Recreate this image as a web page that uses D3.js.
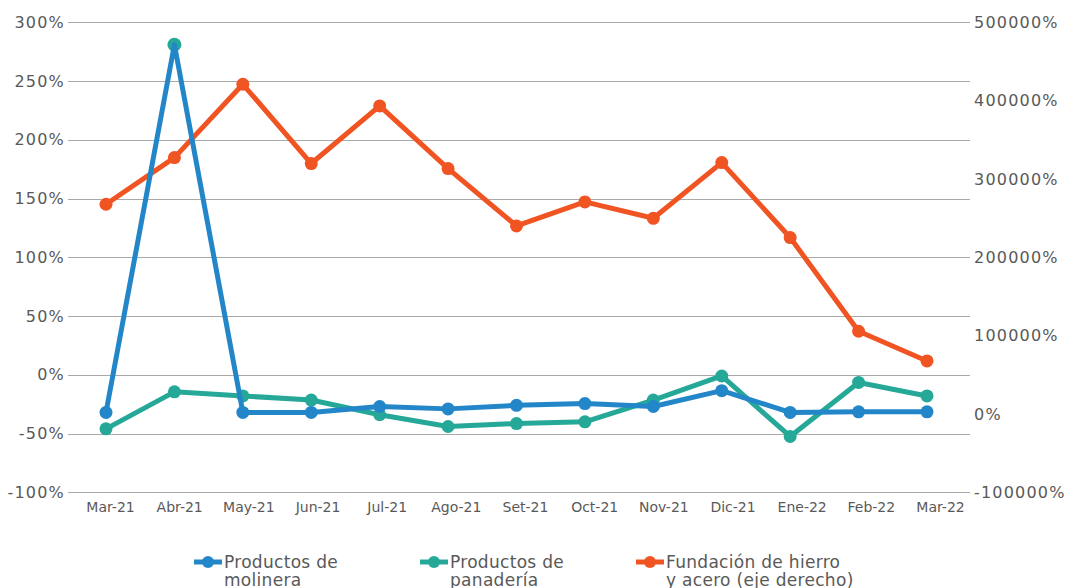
<!DOCTYPE html>
<html>
<head>
<meta charset="utf-8">
<script src="https://cdn.jsdelivr.net/npm/d3@7"></script>
<style>
  body { margin: 0; background: #fff; }
  text { font-family: "DejaVu Sans", sans-serif; fill: #595959; }
  .tick-y text { font-size: 16px; letter-spacing: 1.2px; }
  .tick-x text { font-size: 14px; }
  .legend text { font-size: 17px; letter-spacing: 0.3px; }
</style>
</head>
<body>
<div id="chart"></div>
<script>
var svgWidth = 1066;
var svgHeight = 588;

var months = ["Mar-21", "Abr-21", "May-21", "Jun-21", "Jul-21", "Ago-21", "Set-21",
  "Oct-21", "Nov-21", "Dic-21", "Ene-22", "Feb-22", "Mar-22"];

// left axis series (%)
var molinera = [-32, 281, -32, -32, -27, -29, -26, -24.5, -27, -13.5, -32, -31.5, -31.5];
var panaderia = [-46, -14.5, -18, -21.5, -34, -44, -41.5, -40, -21.5, -1, -52.5, -6.5, -18];
// right axis series (%)
var fundicion = [267700, 327300, 420900, 319700, 393200, 313300, 240000, 270700,
  249800, 320900, 225200, 105600, 67700];

var leftTicks = [-100, -50, 0, 50, 100, 150, 200, 250, 300];
var rightTicks = [-100000, 0, 100000, 200000, 300000, 400000, 500000];

var colors = { molinera: "#2386c8", panaderia: "#26a898", fundicion: "#f15423" };

var svg = d3.select("#chart")
  .append("svg")
  .attr("width", svgWidth)
  .attr("height", svgHeight);

var plotLeft = 68, plotRight = 970, plotTop = 22.3, plotBottom = 492.3;

var xScale = d3.scalePoint().domain(months).range([106, 927]);
// category labels sit slightly to the right of the points, as in the original
var xLabelScale = d3.scalePoint().domain(months).range([110, 940]);
var yLeft = d3.scaleLinear().domain([-100, 300]).range([plotBottom, plotTop]);
var yRight = d3.scaleLinear().domain([-100000, 500000]).range([plotBottom, plotTop]);

// gridlines
svg.append("g")
  .selectAll("line")
  .data(leftTicks)
  .enter()
  .append("line")
  .attr("x1", plotLeft)
  .attr("x2", plotRight)
  .attr("y1", d => Math.round(yLeft(d)) + 0.5)
  .attr("y2", d => Math.round(yLeft(d)) + 0.5)
  .attr("stroke", "#a9a9a9")
  .attr("stroke-width", 1.2);

// left axis
var leftAxis = d3.axisLeft(yLeft).tickValues(leftTicks).tickSize(0).tickPadding(0)
  .tickFormat(d => d + "%");
svg.append("g")
  .attr("class", "tick-y")
  .attr("transform", `translate(65, 0)`)
  .call(leftAxis)
  .call(g => g.select(".domain").remove());

// right axis
var rightAxis = d3.axisRight(yRight).tickValues(rightTicks).tickSize(0).tickPadding(0)
  .tickFormat(d => d + "%");
svg.append("g")
  .attr("class", "tick-y")
  .attr("transform", `translate(974, 0)`)
  .call(rightAxis)
  .call(g => g.select(".domain").remove());

// bottom axis labels
var bottomAxis = d3.axisBottom(xLabelScale).tickSize(0).tickPadding(0);
svg.append("g")
  .attr("class", "tick-x")
  .attr("transform", `translate(0, 502)`)
  .call(bottomAxis)
  .call(g => g.select(".domain").remove());

function drawLine(values, yScale, color) {
  var line = d3.line()
    .x((d, i) => xScale(months[i]))
    .y(d => yScale(d));
  svg.append("path")
    .datum(values)
    .attr("d", line)
    .attr("fill", "none")
    .attr("stroke", color)
    .attr("stroke-width", 5)
    .attr("stroke-linejoin", "round")
    .attr("stroke-linecap", "round");
}

function drawMarkers(values, yScale, color, skip) {
  svg.append("g")
    .selectAll("circle")
    .data(values.map((v, i) => ({ v: v, i: i })).filter(d => d.i !== skip))
    .enter()
    .append("circle")
    .attr("cx", d => xScale(months[d.i]))
    .attr("cy", d => yScale(d.v))
    .attr("r", 6.5)
    .attr("fill", color);
}

// fundicion (right axis)
drawLine(fundicion, yRight, colors.fundicion);
drawMarkers(fundicion, yRight, colors.fundicion);

// panaderia
drawLine(panaderia, yLeft, colors.panaderia);
drawMarkers(panaderia, yLeft, colors.panaderia);

// molinera: the Abr-21 peak marker is teal in the original, under the blue line
svg.append("circle")
  .attr("cx", xScale(months[1]))
  .attr("cy", yLeft(molinera[1]))
  .attr("r", 7)
  .attr("fill", colors.panaderia);
drawLine(molinera, yLeft, colors.molinera);
drawMarkers(molinera, yLeft, colors.molinera, 1);

// legend
var legendItems = [
  { lines: ["Productos de", "molinera"], color: colors.molinera, x: 194 },
  { lines: ["Productos de", "panadería"], color: colors.panaderia, x: 420 },
  { lines: ["Fundación de hierro", "y acero (eje derecho)"], color: colors.fundicion, x: 636 }
];

var legend = svg.append("g").attr("class", "legend");
legendItems.forEach(function(item) {
  var g = legend.append("g").attr("transform", `translate(${item.x}, 562)`);
  g.append("line")
    .attr("x1", 0).attr("x2", 28)
    .attr("y1", 0).attr("y2", 0)
    .attr("stroke", item.color)
    .attr("stroke-width", 5);
  g.append("circle")
    .attr("cx", 14).attr("cy", 0).attr("r", 6)
    .attr("fill", item.color);
  g.selectAll("text.l")
    .data(item.lines)
    .enter()
    .append("text")
    .attr("x", 30)
    .attr("y", (d, i) => 6 + i * 18)
    .text(d => d);
});
</script>
</body>
</html>
